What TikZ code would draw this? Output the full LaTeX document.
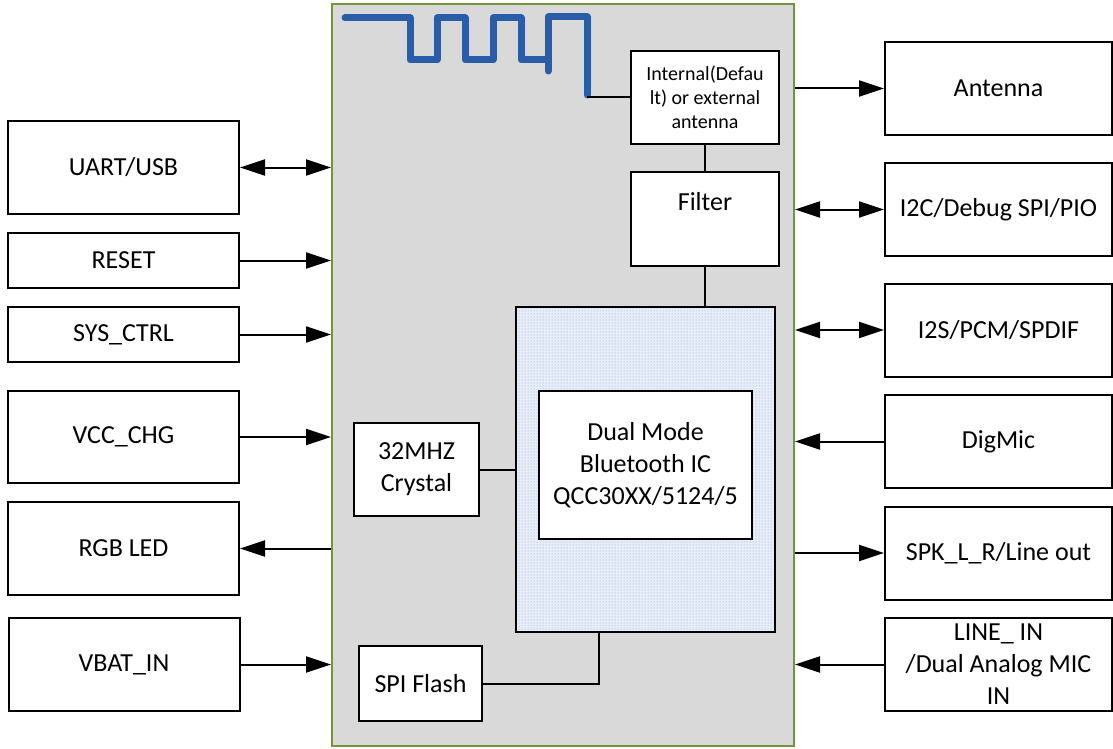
\documentclass[tikz,border=0pt]{standalone}
\usepackage{fontspec}
\setmainfont{Carlito}
\usepackage{xcolor}
\usetikzlibrary{shapes,arrows.meta,patterns}
\definecolor{modgrey}{RGB}{217,217,217}
\definecolor{modgreen}{RGB}{119,147,60}
\definecolor{antblue}{RGB}{42,93,168}
\definecolor{dotblue}{RGB}{130,160,210}
\definecolor{dotback}{RGB}{232,238,248}

\begin{document}
\begin{tikzpicture}[x=1pt, y=-1pt, line width=2pt,
    >={Triangle[length=25pt,width=16pt]},
    box/.style={draw, fill=white, rectangle, inner sep=0pt, align=center,
        font=\fontsize{26}{32}\selectfont},
    lbox/.style={box, minimum width=231pt, minimum height=93pt},
    rbox/.style={box, minimum width=227pt, minimum height=93pt}]
    \useasboundingbox (0,0) rectangle (1113,749);

    % Module outline
    \node[draw=modgreen, fill=modgrey, inner sep=0pt,
        minimum width=462pt, minimum height=742pt] (main) at (563,375) {};

    % Printed antenna
    \draw[antblue, line width=7pt, line join=round, line cap=round]
        (345,18) -- (410,18) -- (410,60) -- (437,60) -- (437,18) -- (465,18)
        -- (465,60) -- (493,60) -- (493,18) -- (521,18) -- (521,60) -- (548,60);
    \draw[antblue, line width=7pt, line join=round, line cap=round]
        (548,71) -- (548,17) -- (587,17) -- (587,95);
    \coordinate (antend) at (587,97);

    % Inside the module
    \node[box, minimum width=148pt, minimum height=93pt,
        font=\fontsize{20}{24}\selectfont] (sw) at (705,97.5)
        {Internal(Defau\\lt) or external\\antenna};
    \node[box, minimum width=148pt, minimum height=94pt] (filter) at (705,219) {Filter\\[-6pt]\strut};
    \node[draw, preaction={fill=dotback}, pattern=dots, pattern color=dotblue,
        minimum width=259pt, minimum height=325pt] (chip) at (645.5,469.5) {};
    \node[box, minimum width=213pt, minimum height=148pt] (ic) at (645.5,465)
        {Dual Mode\\Bluetooth IC\\QCC30XX/5124/5};
    \node[box, minimum width=125pt, minimum height=93pt] (xtal) at (416.5,469.5) {32MHZ\\Crystal};
    \node[box, minimum width=123pt, minimum height=75pt] (flash) at (420.5,683.5) {SPI Flash};
    \coordinate (fl) at (599,632);

    \draw (antend) -- (antend -| sw.west);
    \draw (sw.south) -- (filter.north);
    \draw (filter.south) -- (filter.south |- chip.north);
    \draw (xtal.east) -- (xtal.east -| chip.west);
    \draw (flash.east) -| (fl);

    % Left side
    \node[lbox] (uart) at (123.5,167.5) {UART/USB};
    \node[lbox, minimum height=55pt] (reset) at (123.5,260.5) {RESET};
    \node[lbox, minimum height=55pt] (sysctrl) at (123.5,334.5) {SYS\_CTRL};
    \node[lbox, minimum height=92pt] (vcc) at (123.5,437) {VCC\_CHG};
    \node[lbox] (rgb) at (123.5,548.5) {RGB LED};
    \node[lbox] (vbat) at (124,664.5) {VBAT\_IN};

    \draw[<->] (uart.east) -- (uart.east -| main.west);
    \draw[->] (reset.east) -- (reset.east -| main.west);
    \draw[->] (sysctrl.east) -- (sysctrl.east -| main.west);
    \draw[->] (vcc.east) -- (vcc.east -| main.west);
    \draw[<-] (rgb.east) -- (rgb.east -| main.west);
    \draw[->] (vbat.east) -- (vbat.east -| main.west);

    % Right side
    \node[rbox] (antenna) at (998.5,88.5) {Antenna};
    \node[rbox] (i2c) at (998.5,209.5) {I2C/Debug SPI/PIO};
    \node[rbox] (i2s) at (998.5,330) {I2S/PCM/SPDIF};
    \node[rbox] (digmic) at (998.5,441.5) {DigMic};
    \node[rbox] (spk) at (998.5,553) {SPK\_L\_R/Line out};
    \node[rbox] (linein) at (998.5,664.5) {LINE\_ IN\\/Dual Analog MIC\\IN};

    \draw[<-] (antenna.west) -- (antenna.west -| main.east);
    \draw[<->] (i2c.west) -- (i2c.west -| main.east);
    \draw[<->] (i2s.west) -- (i2s.west -| main.east);
    \draw[->] (digmic.west) -- (digmic.west -| main.east);
    \draw[<-] (spk.west) -- (spk.west -| main.east);
    \draw[->] (linein.west) -- (linein.west -| main.east);
\end{tikzpicture}
\end{document}
